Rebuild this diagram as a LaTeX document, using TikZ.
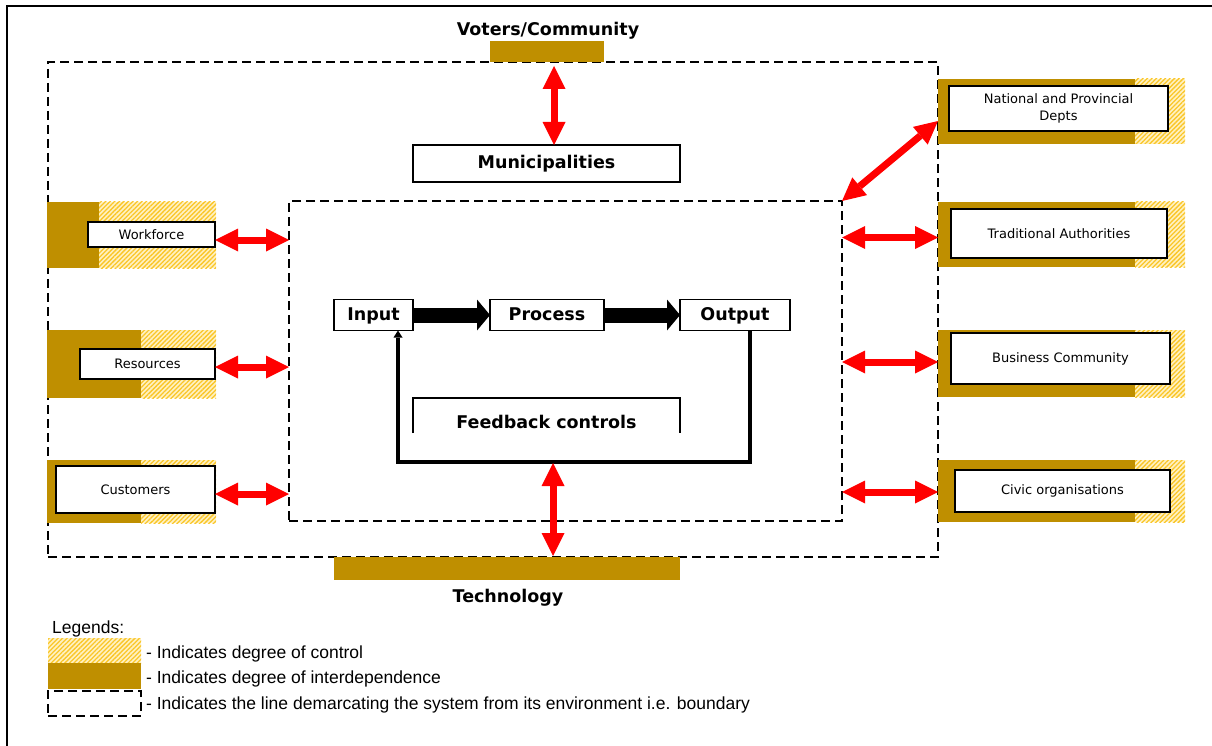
\documentclass[tikz,border=0pt]{standalone}
\usepackage{fontspec}
\newfontfamily\vfont{DejaVu Sans}
\newfontfamily\afont{Liberation Sans}
\usetikzlibrary{arrows.meta,patterns.meta}
\definecolor{gold}{RGB}{191,143,0}
\definecolor{hatchbg}{RGB}{255,241,195}
\definecolor{hatchfg}{RGB}{250,198,40}
\tikzset{
  frame/.style={line width=1.5pt},
  boundary/.style={draw, line width=2.3pt, dash pattern=on 9pt off 5pt, inner sep=0pt, outer sep=0pt},
  interdep/.style={fill=gold},
  control/.style={preaction={fill=hatchbg}, pattern={Lines[angle=45,distance=3.2pt,line width=1.3pt]}, pattern color=hatchfg},
  smallbox/.style={draw, line width=1.5pt, fill=white, inner sep=2pt, outer sep=0pt, align=center,
    font=\vfont\fontsize{13}{17}\selectfont},
  boldbox/.style={draw, line width=1.5pt, fill=white, inner sep=2pt, outer sep=0pt,
    font=\vfont\fontsize{17.5}{21}\selectfont\bfseries},
  stage/.style={boldbox, text height=12.8pt, text depth=2.5pt},
  boxline/.style={line width=1.5pt},
  titletext/.style={inner sep=0pt, font=\vfont\fontsize{17.5}{21}\selectfont\bfseries},
  legendtext/.style={inner sep=0pt, anchor=west, font=\afont\fontsize{17.5}{20}\selectfont},
  redarrow/.style={draw=red, line width=7pt,
    {Triangle[length=23pt,width=23pt,line width=0pt]}-{Triangle[length=23pt,width=23pt,line width=0pt]}},
  blkarrow/.style={draw=black, line width=15pt, -{Triangle[length=13pt,width=31pt,line width=0pt]}},
  fb/.style={line width=4pt, line join=miter, -{Triangle[length=7pt,width=9pt,line width=0pt]}}
}
\begin{document}
\begin{tikzpicture}[x=1pt,y=-1pt]
\useasboundingbox (0,0) rectangle (1212,746);
\draw[frame] (7,746) -- (7,6) -- (1212,6);

% system boundaries
\node[boundary, minimum width=890pt, minimum height=495pt] (env) at (493,309.5) {};
\node[boundary, minimum width=553pt, minimum height=320pt] (system) at (565.5,361) {};

% environment blocks on the left
\fill[interdep] (46.5,202) rectangle (99,268);
\path[control] (99,202) rectangle (216,268);
\fill[interdep] (46.5,330) rectangle (141,398);
\path[control] (141,330) rectangle (216,398);
\fill[interdep] (46.5,460) rectangle (141,523);
\path[control] (141,460) rectangle (216,523);

% environment blocks on the right
\foreach \ya/\yb in {79/144, 202/267, 330/397, 460/522}{
  \fill[interdep] (938,\ya) rectangle (1135,\yb);
  \path[control] (1135,\ya) rectangle (1185,\yb);
}

% top and bottom blocks
\fill[interdep] (490,41) rectangle (604,62);
\fill[interdep] (334,557) rectangle (680,580);

\node[titletext] (voters) at (548,31) {Voters/Community};
\node[titletext] (tech) at (508,598) {Technology};

% stakeholders
\node[smallbox, minimum width=127pt, minimum height=25pt] (work) at (151.5,234.5) {Workforce};
\node[smallbox, minimum width=135pt, minimum height=30pt] (res) at (147.5,364) {Resources};
\node[smallbox, minimum width=159pt, minimum height=47pt] (cust) at (135.5,489.5) {Customers};
\node[smallbox, minimum width=219pt, minimum height=45pt] (natl) at (1058.5,108.5) {National and Provincial\\Depts};
\node[smallbox, minimum width=216pt, minimum height=49pt] (trad) at (1059,233.5) {Traditional Authorities};
\node[smallbox, minimum width=219pt, minimum height=51pt] (biz) at (1060.5,358.5) {Business Community};
\node[smallbox, minimum width=215pt, minimum height=42pt] (civic) at (1062.5,491) {Civic organisations};

% the system
\node[boldbox, minimum width=267pt, minimum height=37pt] (muni) at (546.5,163.5) {Municipalities};
\node[stage, minimum width=79pt, minimum height=31pt] (input) at (373.5,315) {Input};
\node[stage, minimum width=114pt, minimum height=31pt] (process) at (547,315) {Process};
\node[stage, minimum width=110pt, minimum height=31pt] (output) at (735,315) {Output};
\node[boldbox, draw=none, fill=none, minimum width=267pt, minimum height=35pt] (fbk) at (546.5,415.5) {\raisebox{-6pt}[\height][\depth]{Feedback controls}};
\draw[boxline] (fbk.south west) |- (fbk.north east) -- (fbk.south east);

\draw[blkarrow] (input) -- (process);
\draw[blkarrow] (process) -- (output);
\draw[fb] ([xshift=15pt]output.south) -- ++(0,131) -| ([xshift=24.5pt]input.south);

% interactions with the environment
\draw[redarrow] ([xshift=7.5pt,yshift=-4pt]muni.north |- env.north) -- ([xshift=7.5pt]muni.north);
\draw[redarrow] ([xshift=6.5pt,yshift=-30pt]fbk.south) -- ([xshift=6.5pt,yshift=1pt]fbk.south |- env.south);
\draw[redarrow] ([yshift=-5.5pt]work.east) -- ([yshift=-5.5pt]work.east -| system.west);
\draw[redarrow] ([yshift=-3pt]res.east) -- ([yshift=-3pt]res.east -| system.west);
\draw[redarrow] ([yshift=-4.5pt]cust.east) -- ([yshift=-4.5pt]cust.east -| system.west);
\draw[redarrow] (system.north east) -- ([yshift=-12.5pt]natl.west -| env.east);
\draw[redarrow] ([yshift=-4pt]trad.west -| system.east) -- ([yshift=-4pt]trad.west -| env.east);
\draw[redarrow] ([yshift=-3.5pt]biz.west -| system.east) -- ([yshift=-3.5pt]biz.west -| env.east);
\draw[redarrow] ([yshift=-1pt]civic.west -| system.east) -- ([yshift=-1pt]civic.west -| env.east);

% legend
\node[legendtext] (legtitle) at (52,629) {Legends:};
\node[control, minimum width=93pt, minimum height=25pt, inner sep=0pt, outer sep=0pt] (keyctl) at (94.5,650.5) {};
\node[interdep, minimum width=93pt, minimum height=26pt, inner sep=0pt, outer sep=0pt] (keydep) at (94.5,676) {};
\node[boundary, minimum width=93pt, minimum height=25pt] (keybnd) at (94.5,703.5) {};
\node[legendtext] (txtctl) at (146,654) {- Indicates degree of control};
\node[legendtext] (txtdep) at (146,679) {- Indicates degree of interdependence};
\node[legendtext] (txtbnd) at (146,705) {- Indicates the line demarcating the system from its environment i.e. boundary};
\end{tikzpicture}
\end{document}
